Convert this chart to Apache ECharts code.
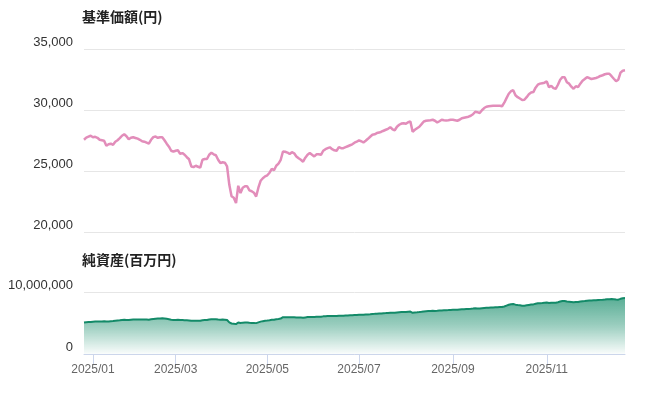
<!DOCTYPE html>
<html>
<head>
<meta charset="utf-8">
<script src="https://cdn.jsdelivr.net/npm/echarts@6/dist/echarts.min.js"></script>
<style>
  html, body { margin: 0; padding: 0; background: #fff; }
  #chart { width: 655px; height: 397px; }
</style>
</head>
<body>
<div id="chart"></div>
<script>
// 月ごとの営業日データ
const months = ['2024/12', '2025/01', '2025/02', '2025/03', '2025/04', '2025/05', '2025/06',
  '2025/07', '2025/08', '2025/09', '2025/10', '2025/11', '2025/12'];
const labelMonths = ['2025/01', '2025/03', '2025/05', '2025/07', '2025/09', '2025/11'];

// 基準価額(円)
const nav2412 = [27560, 27730, 27810, 27890];
const nav2501 = [27770, 27800, 27720, 27560, 27520, 27480, 27070, 27190, 27240, 27150, 27400, 27520, 27690, 27890, 28010, 27850, 27600, 27720, 27770];
const nav2502 = [27710, 27650, 27560, 27440, 27400, 27320, 27240, 27560, 27780, 27830, 27720, 27770, 27770, 27520, 27240, 26990, 26660, 26580];
const nav2503 = [26660, 26700, 26410, 26470, 26330, 26130, 25960, 25370, 25320, 25430, 25350, 25270, 25920, 25980, 25980, 26330, 26500, 26370, 26290, 25920];
const nav2504 = [25650, 25720, 25680, 25370, 23870, 22930, 22810, 22370, 23790, 23190, 23630, 23750, 23750, 23420, 23340, 23220, 22910, 23630, 24200, 24410, 24560];
const nav2505 = [24650, 24860, 25180, 25060, 25430, 25600, 25920, 26600, 26580, 26510, 26390, 26540, 26450, 26190, 26040, 25920, 25760, 26090, 26330, 26470];
const nav2506 = [26330, 26190, 26370, 26370, 26330, 26660, 26790, 26870, 26940, 26790, 26700, 26660, 26960, 26870, 26870, 26950, 27030, 27110, 27190, 27320, 27400];
const nav2507 = [27510, 27440, 27340, 27480, 27640, 27810, 27970, 28010, 28110, 28150, 28220, 28300, 28380, 28460, 28590, 28420, 28340, 28630, 28790, 28890, 28920, 28870];
const nav2508 = [29000, 29060, 28220, 28380, 28510, 28630, 28840, 29060, 29120, 29140, 29160, 29200, 29120, 28980, 29080, 29200, 29160, 29140, 29160, 29200];
const nav2509 = [29200, 29160, 29120, 29200, 29330, 29370, 29410, 29450, 29530, 29650, 29860, 29820, 29750, 29980, 30160, 30270, 30310, 30330, 30350, 30350];
const nav2510 = [30350, 30350, 30310, 30600, 30970, 31330, 31540, 31620, 31210, 31050, 30940, 30820, 30840, 31050, 31290, 31430, 31470, 31830, 32070, 32160, 32200, 32240];
const nav2511 = [32340, 31870, 31990, 31790, 31740, 32070, 32480, 32690, 32690, 32280, 32160, 31910, 31740, 31950, 31870, 32160, 32400, 32540];
const nav2512 = [32690, 32620, 32540, 32580, 32620, 32690, 32790, 32850, 32930, 32970, 32970, 32770, 32560, 32360, 32480, 33060, 33220, 33250];

// 純資産(百万円)
const asset2412 = [5080000, 5120000, 5150000, 5170000];
const asset2501 = [5200000, 5230000, 5250000, 5240000, 5260000, 5280000, 5230000, 5260000, 5300000, 5310000, 5360000, 5400000, 5440000, 5500000, 5530000, 5500000, 5480000, 5520000, 5560000];
const asset2502 = [5580000, 5570000, 5560000, 5550000, 5560000, 5550000, 5540000, 5600000, 5660000, 5700000, 5720000, 5740000, 5750000, 5720000, 5670000, 5610000, 5540000, 5500000];
const asset2503 = [5500000, 5510000, 5470000, 5480000, 5460000, 5440000, 5420000, 5360000, 5350000, 5370000, 5360000, 5350000, 5450000, 5470000, 5480000, 5560000, 5620000, 5610000, 5600000, 5560000];
const asset2504 = [5540000, 5550000, 5540000, 5480000, 5100000, 4920000, 4880000, 4820000, 5080000, 4990000, 5060000, 5080000, 5080000, 5030000, 5020000, 5010000, 4980000, 5100000, 5220000, 5300000, 5360000];
const asset2505 = [5400000, 5450000, 5530000, 5520000, 5600000, 5650000, 5720000, 5930000, 5940000, 5930000, 5910000, 5940000, 5930000, 5900000, 5880000, 5870000, 5850000, 5900000, 5950000, 5980000];
const asset2506 = [5970000, 5960000, 5990000, 6000000, 6010000, 6070000, 6100000, 6120000, 6140000, 6120000, 6120000, 6120000, 6170000, 6170000, 6180000, 6200000, 6220000, 6240000, 6260000, 6290000, 6310000];
const asset2507 = [6330000, 6330000, 6320000, 6360000, 6390000, 6420000, 6460000, 6480000, 6510000, 6530000, 6550000, 6580000, 6600000, 6630000, 6660000, 6640000, 6640000, 6690000, 6730000, 6760000, 6780000, 6790000];
const asset2508 = [6820000, 6840000, 6650000, 6690000, 6720000, 6760000, 6810000, 6870000, 6900000, 6920000, 6940000, 6960000, 6950000, 6970000, 7000000, 7020000, 7040000, 7060000, 7080000, 7110000];
const asset2509 = [7130000, 7140000, 7150000, 7180000, 7210000, 7230000, 7250000, 7270000, 7290000, 7320000, 7360000, 7350000, 7350000, 7390000, 7420000, 7450000, 7470000, 7490000, 7510000, 7530000];
const asset2510 = [7550000, 7570000, 7590000, 7660000, 7800000, 7940000, 8030000, 8060000, 7960000, 7900000, 7850000, 7800000, 7800000, 7860000, 7920000, 7980000, 8000000, 8100000, 8170000, 8200000, 8220000, 8260000];
const asset2511 = [8300000, 8230000, 8280000, 8260000, 8270000, 8350000, 8460000, 8550000, 8560000, 8480000, 8440000, 8400000, 8360000, 8400000, 8400000, 8460000, 8520000, 8550000];
const asset2512 = [8600000, 8620000, 8630000, 8650000, 8670000, 8700000, 8730000, 8750000, 8780000, 8820000, 8850000, 8860000, 8820000, 8780000, 8770000, 8900000, 8990000, 9020000];

const navByMonth = [nav2412, nav2501, nav2502, nav2503, nav2504, nav2505, nav2506, nav2507, nav2508, nav2509, nav2510, nav2511, nav2512];
const assetByMonth = [asset2412, asset2501, asset2502, asset2503, asset2504, asset2505, asset2506, asset2507, asset2508, asset2509, asset2510, asset2511, asset2512];

// カテゴリ(月 + 営業日番号)
const categories = [];
const labelIndex = new Set();
months.forEach((m, mi) => {
  if (labelMonths.indexOf(m) >= 0) labelIndex.add(categories.length);
  navByMonth[mi].forEach((v, di) => categories.push(m + '#' + (di + 1)));
});
const navData = [].concat(...navByMonth);
const assetData = [].concat(...assetByMonth);

const showAt = (index) => labelIndex.has(index);
const fmt = (v) => v.toLocaleString('en-US');

const myChart = echarts.init(document.getElementById('chart'));
myChart.setOption({
  animation: false,
  textStyle: { fontFamily: 'Liberation Sans, Arial, sans-serif' },
  title: [
    {
      text: '基準価額(円)',
      left: 82, top: 10, padding: 0,
      textStyle: { fontSize: 14, fontWeight: 'bold', color: '#222', fontFamily: 'Noto Sans CJK JP' }
    },
    {
      text: '純資産(百万円)',
      left: 82, top: 253, padding: 0,
      textStyle: { fontSize: 14, fontWeight: 'bold', color: '#222', fontFamily: 'Noto Sans CJK JP' }
    }
  ],
  grid: [
    { left: 84, right: 30, top: 49, height: 183 },
    { left: 84, right: 30, top: 292, height: 62 }
  ],
  xAxis: [
    {
      type: 'category',
      gridIndex: 0,
      data: categories,
      boundaryGap: false,
      show: false
    },
    {
      type: 'category',
      gridIndex: 1,
      data: categories,
      boundaryGap: false,
      axisLine: { lineStyle: { color: '#ccd6eb' } },
      axisTick: { interval: showAt, length: 10, lineStyle: { color: '#ccd6eb' } },
      axisLabel: {
        interval: showAt,
        formatter: (v) => v.slice(0, 7),
        color: '#666',
        fontSize: 12,
        margin: 10
      }
    }
  ],
  yAxis: [
    {
      type: 'value',
      gridIndex: 0,
      min: 20000,
      max: 35000,
      interval: 5000,
      axisLine: { show: false },
      axisTick: { show: false },
      splitLine: { lineStyle: { color: '#e6e6e6' } },
      axisLabel: { color: '#333', fontSize: 13, margin: 11, verticalAlign: 'bottom', formatter: fmt }
    },
    {
      type: 'value',
      gridIndex: 1,
      min: 0,
      max: 10000000,
      interval: 10000000,
      axisLine: { show: false },
      axisTick: { show: false },
      splitLine: { lineStyle: { color: '#e6e6e6' } },
      axisLabel: { color: '#333', fontSize: 13, margin: 11, verticalAlign: 'bottom', formatter: fmt }
    }
  ],
  series: [
    {
      name: '基準価額',
      type: 'line',
      xAxisIndex: 0,
      yAxisIndex: 0,
      data: navData,
      symbol: 'none',
      lineStyle: { color: '#e28dba', width: 2.5 }
    },
    {
      name: '純資産',
      type: 'line',
      xAxisIndex: 1,
      yAxisIndex: 1,
      data: assetData,
      symbol: 'none',
      lineStyle: { color: '#138a68', width: 2 },
      areaStyle: {
        color: new echarts.graphic.LinearGradient(0, 0, 0, 1, [
          { offset: 0, color: 'rgba(20,140,105,1)' },
          { offset: 0.5, color: 'rgba(20,140,105,0.6)' },
          { offset: 1, color: 'rgba(20,140,105,0.03)' }
        ])
      }
    }
  ]
});
</script>
</body>
</html>
